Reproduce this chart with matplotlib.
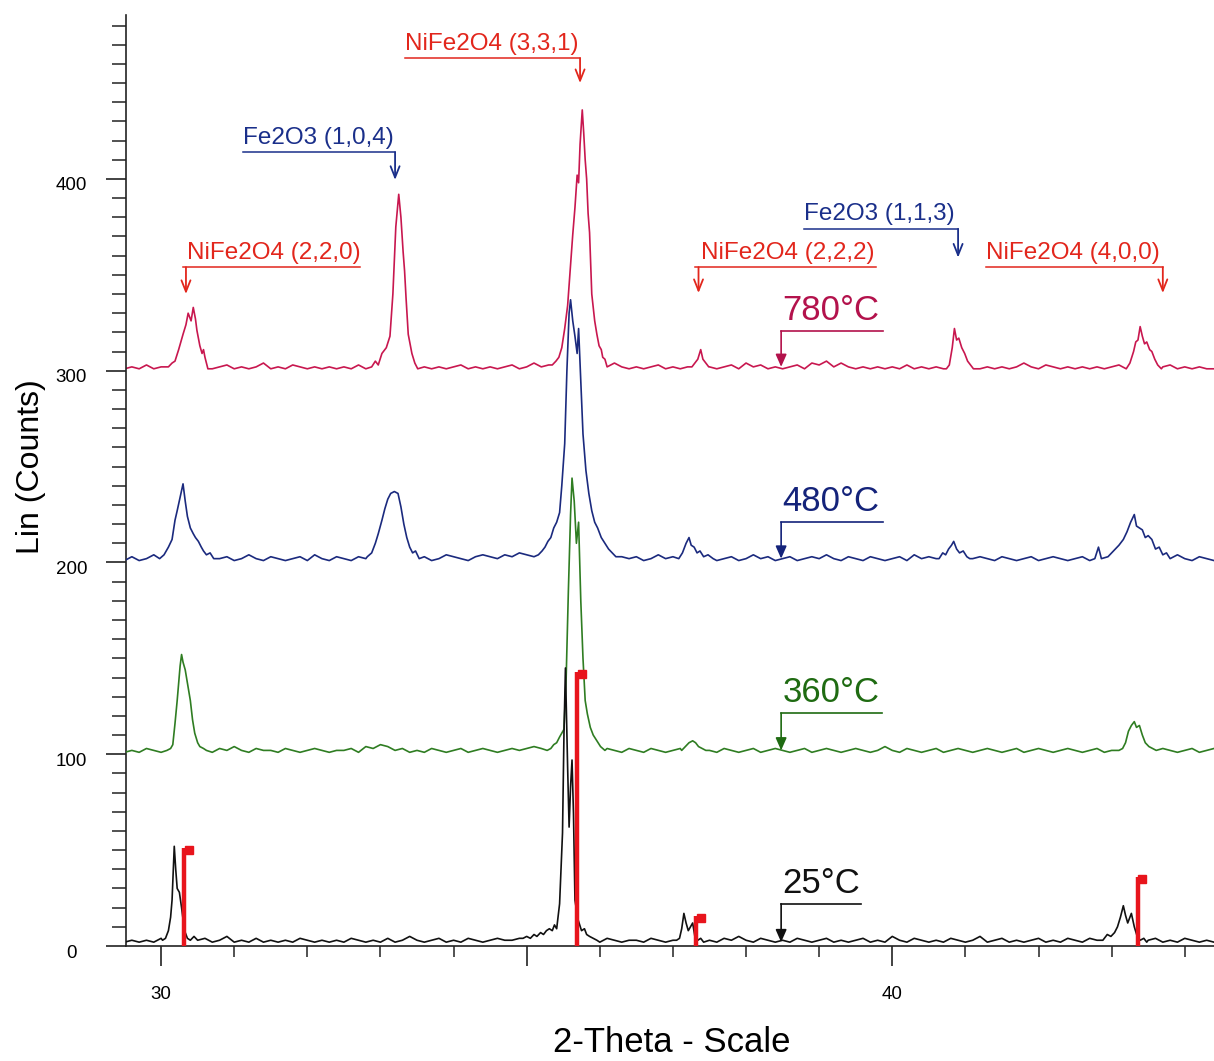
'''
XRD patterns of NiFe2O4 films annealed at different temperatures
'''

import numpy as np
import matplotlib
matplotlib.use('Agg')
import matplotlib.pyplot as plt
import matplotlib.transforms as mtransforms

plt.rcParams['font.family'] = ['Liberation Sans', 'DejaVu Sans']

# scan angles where the flat background was read (2-theta, deg)
scan_x = np.round(np.arange(29.5, 44.45, 0.1), 2)

# background readings (counts) for each pattern, one row per degree from 29.5
base_780 = [301, 302, 301, 303, 301, 302, 304, 301, 302, 301,
            302, 301, 301, 302, 303, 301, 302, 301, 302, 304,
            301, 302, 301, 303, 302, 301, 302, 301, 302, 301,
            302, 301, 303, 301, 302, 304, 302, 301, 303, 302,
            301, 302, 301, 302, 301, 302, 303, 301, 302, 301,
            302, 301, 302, 303, 301, 302, 304, 302, 303, 304,
            305, 306, 306, 307, 305, 304, 303, 304, 302, 301,
            302, 301, 302, 303, 301, 302, 301, 302, 301, 302,
            302, 301, 302, 303, 301, 304, 302, 303, 301, 302,
            301, 302, 303, 301, 304, 303, 305, 302, 304, 302,
            301, 302, 301, 302, 301, 302, 301, 303, 301, 302,
            301, 302, 301, 302, 303, 301, 302, 301, 302, 301,
            302, 301, 302, 304, 302, 301, 303, 302, 301, 302,
            301, 302, 301, 302, 301, 302, 303, 302, 301, 302,
            302, 301, 302, 303, 301, 302, 301, 302, 301, 301]
base_480 = [201, 203, 201, 202, 204, 202, 201, 203, 202, 204,
            203, 202, 204, 202, 203, 201, 202, 204, 202, 201,
            203, 202, 201, 202, 203, 201, 204, 202, 201, 203,
            202, 201, 203, 202, 204, 202, 203, 205, 203, 204,
            202, 203, 201, 202, 204, 203, 202, 201, 203, 204,
            203, 202, 204, 203, 205, 204, 206, 205, 207, 208,
            210, 208, 206, 205, 204, 203, 202, 204, 203, 202,
            203, 201, 202, 204, 202, 203, 202, 201, 203, 202,
            203, 201, 202, 203, 201, 202, 204, 202, 203, 201,
            202, 203, 201, 202, 203, 202, 204, 202, 201, 203,
            202, 201, 203, 202, 201, 202, 203, 201, 204, 202,
            203, 202, 201, 203, 202, 201, 202, 203, 202, 201,
            203, 202, 201, 202, 203, 201, 202, 203, 202, 201,
            202, 203, 201, 203, 202, 201, 202, 204, 203, 202,
            205, 204, 203, 202, 204, 202, 201, 203, 202, 201]
base_360 = [101, 102, 101, 103, 102, 101, 102, 103, 102, 102,
            103, 102, 101, 103, 102, 104, 102, 101, 103, 102,
            102, 101, 103, 102, 101, 102, 103, 102, 101, 102,
            102, 103, 101, 104, 103, 105, 104, 102, 103, 101,
            102, 101, 103, 102, 101, 102, 103, 101, 102, 103,
            102, 101, 102, 103, 102, 103, 104, 103, 104, 105,
            108, 107, 105, 104, 103, 102, 103, 102, 101, 103,
            102, 101, 103, 102, 101, 102, 103, 102, 101, 102,
            102, 101, 103, 102, 101, 102, 103, 101, 102, 103,
            102, 101, 102, 103, 101, 102, 103, 102, 101, 102,
            103, 102, 101, 102, 104, 102, 101, 103, 102, 101,
            102, 103, 101, 102, 103, 102, 101, 102, 103, 102,
            101, 102, 103, 101, 102, 103, 102, 101, 102, 103,
            102, 101, 102, 103, 101, 102, 103, 102, 101, 103,
            102, 101, 103, 102, 101, 102, 103, 101, 102, 103]
base_25 = [2, 3, 2, 3, 2, 4, 3, 2, 3, 3,
           3, 4, 2, 3, 5, 2, 3, 2, 4, 2,
           3, 2, 3, 2, 4, 3, 2, 3, 2, 3,
           2, 4, 3, 2, 3, 2, 4, 2, 3, 5,
           3, 2, 3, 4, 2, 3, 2, 4, 3, 2,
           3, 4, 3, 3, 4, 5, 5, 6, 8, 9,
           9, 7, 5, 4, 3, 2, 4, 3, 2, 3,
           3, 2, 4, 3, 2, 3, 4, 3, 4, 2,
           3, 2, 4, 3, 5, 3, 2, 4, 3, 2,
           3, 2, 4, 3, 2, 3, 4, 2, 3, 2,
           3, 4, 2, 3, 2, 5, 3, 2, 4, 3,
           2, 3, 2, 4, 3, 2, 3, 5, 2, 3,
           4, 2, 3, 2, 3, 4, 2, 3, 2, 4,
           3, 2, 4, 3, 3, 5, 4, 6, 8, 9,
           3, 4, 2, 3, 2, 4, 3, 2, 3, 2]

# peak profiles: (2-theta, counts)
peaks_780 = [
    [(30.10, 302), (30.15, 304), (30.19, 305), (30.24, 311), (30.30, 319), (30.34, 324),
     (30.37, 330), (30.41, 326), (30.44, 333), (30.47, 327), (30.49, 321), (30.53, 313),
     (30.56, 309), (30.58, 311), (30.60, 307), (30.64, 301)],
    [(32.88, 302), (32.93, 305), (32.97, 303), (33.02, 309), (33.08, 312), (33.13, 318),
     (33.17, 340), (33.21, 375), (33.25, 392), (33.28, 380), (33.31, 362), (33.33, 352),
     (33.35, 338), (33.38, 319), (33.41, 313), (33.43, 309), (33.47, 304), (33.51, 301)],
    [(35.35, 303), (35.40, 305), (35.44, 307), (35.48, 312), (35.52, 322), (35.56, 334),
     (35.60, 355), (35.63, 371), (35.66, 385), (35.69, 402), (35.71, 398), (35.73, 418),
     (35.76, 436), (35.78, 424), (35.80, 410), (35.82, 400), (35.84, 382), (35.86, 372),
     (35.89, 340), (35.93, 326), (35.96, 319), (35.99, 313), (36.02, 311), (36.04, 307),
     (36.07, 306), (36.10, 302)],
    [(37.26, 302), (37.30, 304), (37.34, 306), (37.38, 311), (37.41, 306), (37.45, 304),
     (37.49, 302)],
    [(40.74, 301), (40.78, 303), (40.82, 312), (40.85, 322), (40.88, 316), (40.91, 317),
     (40.95, 312), (40.99, 309), (41.03, 305), (41.07, 303), (41.11, 301)],
    [(43.20, 301), (43.25, 304), (43.30, 310), (43.33, 315), (43.36, 316), (43.39, 323),
     (43.42, 318), (43.45, 314), (43.48, 315), (43.52, 311), (43.55, 310), (43.59, 306),
     (43.63, 303), (43.68, 301)],
]
peaks_480 = [
    [(29.98, 202), (30.04, 204), (30.10, 208), (30.15, 212), (30.19, 222), (30.22, 227),
     (30.26, 234), (30.30, 241), (30.33, 232), (30.36, 224), (30.40, 218), (30.44, 215),
     (30.47, 213), (30.51, 211), (30.55, 208), (30.58, 206), (30.62, 204), (30.67, 205),
     (30.72, 202)],
    [(32.82, 203), (32.88, 205), (32.93, 210), (32.97, 215), (33.02, 222), (33.06, 228),
     (33.10, 233), (33.14, 236), (33.19, 237), (33.24, 236), (33.28, 229), (33.32, 220),
     (33.36, 213), (33.40, 208), (33.44, 205), (33.48, 206), (33.53, 202)],
    [(35.10, 203), (35.16, 204), (35.21, 206), (35.25, 208), (35.29, 211), (35.33, 213),
     (35.37, 218), (35.41, 221), (35.45, 226), (35.48, 240), (35.52, 262), (35.55, 300),
     (35.58, 330), (35.60, 337), (35.63, 326), (35.66, 318), (35.69, 309), (35.71, 322),
     (35.74, 295), (35.77, 267), (35.81, 248), (35.85, 236), (35.89, 227), (35.93, 221),
     (35.97, 218), (36.02, 213), (36.07, 210), (36.12, 207), (36.17, 205), (36.22, 203)],
    [(37.08, 202), (37.13, 205), (37.18, 210), (37.22, 213), (37.25, 209), (37.29, 208),
     (37.33, 205), (37.37, 206), (37.42, 203), (37.48, 204), (37.55, 202)],
    [(40.64, 202), (40.69, 205), (40.73, 204), (40.77, 207), (40.81, 209), (40.84, 211),
     (40.88, 207), (40.92, 205), (40.97, 206), (41.02, 203), (41.06, 202)],
    [(42.77, 202), (42.82, 208), (42.86, 202), (42.95, 203), (43.00, 205), (43.05, 207),
     (43.10, 209), (43.16, 212), (43.21, 216), (43.26, 221), (43.31, 225), (43.34, 219),
     (43.38, 218), (43.42, 217), (43.46, 213), (43.50, 214), (43.55, 212), (43.60, 207),
     (43.65, 208), (43.70, 204), (43.75, 205), (43.80, 202)],
]
peaks_360 = [
    [(30.08, 102), (30.13, 103), (30.16, 105), (30.19, 116), (30.22, 128), (30.26, 146),
     (30.28, 152), (30.30, 148), (30.33, 144), (30.36, 137), (30.40, 128), (30.43, 118),
     (30.46, 111), (30.50, 106), (30.53, 104), (30.58, 103), (30.62, 102)],
    [(35.28, 102), (35.33, 103), (35.37, 105), (35.41, 106), (35.45, 109), (35.48, 111),
     (35.51, 113), (35.54, 140), (35.57, 185), (35.60, 225), (35.62, 244), (35.65, 232),
     (35.68, 210), (35.71, 221), (35.74, 180), (35.77, 150), (35.80, 128), (35.83, 121),
     (35.87, 114), (35.91, 110), (35.96, 107), (36.01, 104), (36.07, 102)],
    [(37.12, 102), (37.17, 104), (37.22, 106), (37.27, 107), (37.31, 106), (37.35, 104),
     (37.40, 103), (37.45, 102)],
    [(43.10, 102), (43.15, 103), (43.19, 106), (43.23, 112), (43.27, 115), (43.31, 117),
     (43.34, 114), (43.38, 115), (43.42, 110), (43.46, 106), (43.51, 104), (43.56, 103),
     (43.61, 102)],
]
peaks_25 = [
    [(30.02, 3), (30.06, 4), (30.10, 8), (30.13, 15), (30.15, 24), (30.17, 42), (30.18, 52),
     (30.20, 40), (30.22, 30), (30.25, 28), (30.28, 20), (30.30, 14), (30.33, 7), (30.36, 4),
     (30.40, 3), (30.45, 5), (30.50, 3)],
    [(34.95, 4), (35.00, 5), (35.05, 4), (35.10, 6), (35.14, 5), (35.19, 7), (35.23, 6),
     (35.27, 8), (35.31, 9), (35.35, 8), (35.38, 11), (35.41, 9), (35.45, 22), (35.49, 59),
     (35.51, 111), (35.53, 145), (35.56, 93), (35.58, 62), (35.60, 83), (35.62, 97),
     (35.64, 69), (35.66, 24), (35.70, 14), (35.75, 8), (35.79, 9), (35.82, 6), (35.86, 5),
     (35.91, 4), (35.96, 3)],
    [(37.05, 3), (37.09, 4), (37.12, 9), (37.15, 17), (37.18, 12), (37.21, 8), (37.24, 10),
     (37.27, 12), (37.30, 5), (37.34, 3), (37.38, 4), (37.42, 2)],
    [(42.88, 3), (42.94, 6), (42.99, 5), (43.04, 7), (43.08, 10), (43.12, 15), (43.16, 21),
     (43.19, 16), (43.22, 12), (43.25, 15), (43.27, 17), (43.31, 10), (43.35, 5), (43.39, 3),
     (43.44, 4), (43.48, 2)],
]

# NiFe2O4 reference pattern (stick lines)
ref_x = [30.32, 35.69, 37.32, 43.36]
ref_y = [51, 143, 15.5, 36]

# temperature labels
temps = ['780°C', '480°C', '360°C', '25°C']
temp_line_y = [320.7, 221, 121.5, 22]
temp_tip_y = [302, 202, 102, 2]
temp_line_end = [39.87, 39.87, 39.86, 39.57]

# phase labels
phase_labels = ['NiFe2O4 (2,2,0)', 'Fe2O3 (1,0,4)', 'NiFe2O4 (3,3,1)',
                'Fe2O3 (1,1,3)', 'NiFe2O4 (2,2,2)', 'NiFe2O4 (4,0,0)']
phase_text_x = [30.36, 31.12, 33.34, 38.79, 37.38, 41.28]
phase_line_start = [30.30, 31.12, 33.34, 38.79, 37.30, 41.28]
phase_line_end = [32.72, 33.20, 35.73, 40.90, 39.78, 43.70]
phase_arrow_x = [30.34, 33.20, 35.73, 40.90, 37.35, 43.70]
phase_line_y = [354, 414, 463, 374, 354, 354]
phase_tip_y = [340, 399.5, 450, 359, 340.5, 340.5]


def build(base, peaks):
    xs = []
    ys = []
    for x, y in zip(scan_x, base):
        inside = False
        for p in peaks:
            if p[0][0] <= x <= p[-1][0]:
                inside = True
        if not inside:
            xs.append(x)
            ys.append(y)
    for p in peaks:
        for x, y in p:
            xs.append(x)
            ys.append(y)
    order = np.argsort(xs)
    return np.array(xs)[order], np.array(ys)[order]


def main():
    fig = plt.figure(figsize=(12.14, 10.61), dpi=100)
    ax = fig.add_axes([126/1214, 115/1061, 1 - 126/1214, (946-15)/1061])
    ax.set_xlim(29.52, 44.40)
    ax.set_ylim(0, 485.5)

    trace_cols = ['#c8174f', '#1b2a7e', '#2f7d22', '#111111']
    text_cols = ['#b3124c', '#14237a', '#1f6b12', '#111111']
    bases = [base_780, base_480, base_360, base_25]
    peaks = [peaks_780, peaks_480, peaks_360, peaks_25]
    for i in range(4):
        x, y = build(bases[i], peaks[i])
        ax.plot(x, y, color=trace_cols[i], lw=1.2, zorder=2 + i)

    # reference sticks
    ax.vlines(ref_x, 0, ref_y, color='#e8141c', lw=3.2, zorder=7)
    ax.plot(np.array(ref_x) + 0.06, np.array(ref_y) - 1, 's', color='#e8141c',
            ms=6, zorder=7)

    # temperature labels with arrows
    for i in range(4):
        ax.plot([38.48, temp_line_end[i]], [temp_line_y[i], temp_line_y[i]],
                color=text_cols[i], lw=1.2, zorder=8)
        ax.annotate('', xy=(38.48, temp_tip_y[i]), xytext=(38.48, temp_line_y[i]),
                    arrowprops=dict(arrowstyle='-|>,head_length=0.5,head_width=0.22',
                                    color=text_cols[i], lw=1.2, mutation_scale=15,
                                    shrinkA=0, shrinkB=0), zorder=8)
        ax.annotate(temps[i], xy=(38.48, temp_line_y[i]), xytext=(1, 8),
                    textcoords='offset points', ha='left', va='baseline',
                    fontsize=25, color=text_cols[i])

    # phase labels
    for i in range(len(phase_labels)):
        if phase_labels[i].startswith('NiFe'):
            c = '#e2261c'
        else:
            c = '#1a2f8a'
        ax.plot([phase_line_start[i], phase_line_end[i]], [phase_line_y[i], phase_line_y[i]],
                color=c, lw=1.1)
        ax.annotate('', xy=(phase_arrow_x[i], phase_tip_y[i]),
                    xytext=(phase_arrow_x[i], phase_line_y[i]),
                    arrowprops=dict(arrowstyle='->,head_length=0.45,head_width=0.18',
                                    color=c, lw=1.3, mutation_scale=18,
                                    shrinkA=0, shrinkB=0))
        ax.annotate(phase_labels[i], xy=(phase_text_x[i], phase_line_y[i]), xytext=(0, 2.5),
                    textcoords='offset points', ha='left', va='bottom',
                    fontsize=17.5, color=c)

    # axes styling
    ax.spines['top'].set_visible(False)
    ax.spines['right'].set_visible(False)
    ax.spines['left'].set_linewidth(1.2)
    ax.spines['bottom'].set_linewidth(1.2)
    ax.spines['left'].set_color('#222222')
    ax.spines['bottom'].set_color('#222222')

    ax.set_yticks([0, 100, 200, 300, 400])
    ax.set_yticks(np.arange(10, 490, 10), minor=True)
    ax.set_xticks([30, 35, 40])
    ax.set_xticklabels(['30', '', '40'])
    ax.set_xticks(np.arange(30, 45, 1), minor=True)
    ax.tick_params(axis='y', which='major', length=14.4, width=1.2, pad=25,
                   labelsize=13.5, color='#222222')
    ax.tick_params(axis='y', which='minor', length=10, width=1.1, color='#222222')
    ax.tick_params(axis='x', which='major', length=14.5, width=1.2, pad=14,
                   labelsize=13.5, color='#222222')
    ax.tick_params(axis='x', which='minor', length=8, width=1.1, color='#222222')

    shift = mtransforms.ScaledTranslation(0, -5/100, fig.dpi_scale_trans)
    for lab in ax.get_yticklabels():
        lab.set_horizontalalignment('center')
        lab.set_transform(lab.get_transform() + shift)

    fig.text(31/1214, 1 - 467/1061, 'Lin (Counts)', rotation=90, ha='center',
             va='center', fontsize=23)
    fig.text(672/1214, 1 - 1043/1061, '2-Theta - Scale', ha='center', va='center',
             fontsize=25)

    fig.savefig('out.png', dpi=100)


main()
